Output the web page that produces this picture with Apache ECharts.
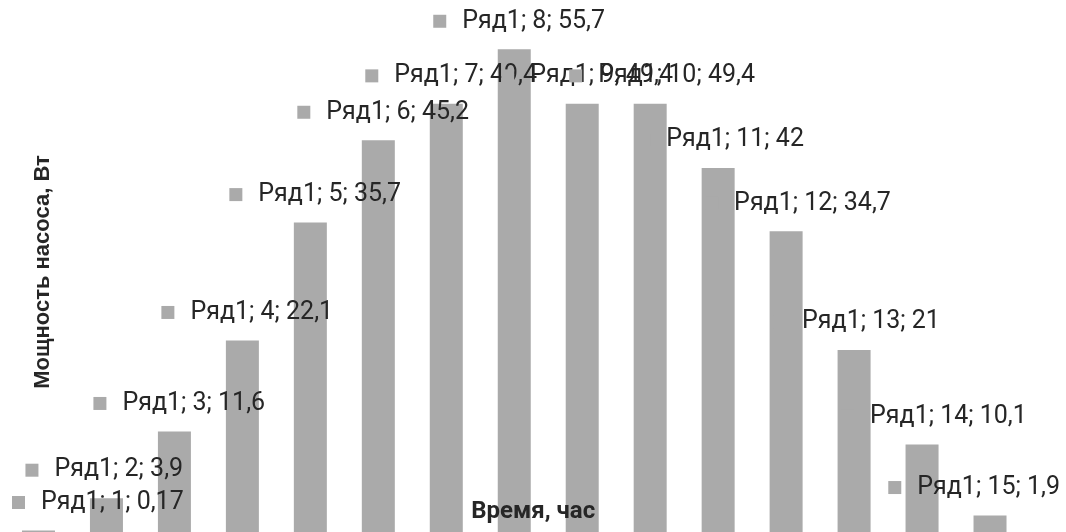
<!DOCTYPE html>
<html>
<head>
<meta charset="utf-8">
<script src="https://cdn.jsdelivr.net/npm/echarts@6/dist/echarts.min.js"></script>
<style>
  html, body { margin: 0; padding: 0; background: #fff; }
  #chart { width: 1066px; height: 532px; }
</style>
</head>
<body>
<div id="chart"></div>
<script>
// часы
const hours = ['1', '2', '3', '4', '5', '6', '7', '8', '9', '10', '11', '12', '13', '14', '15']
// мощность насоса, Вт
const power = [0.17, 3.9, 11.6, 22.1, 35.7, 45.2, 49.4, 55.7, 49.4, 49.4, 42, 34.7, 21, 10.1, 1.9]
const seriesName = 'Ряд1'

const barColor = '#aaaaaa'
const textColor = '#262626'

const chart = echarts.init(document.getElementById('chart'))

const option = {
  animation: false,
  grid: {
    left: 4.5,
    right: 42,
    top: 12,
    bottom: 0
  },
  xAxis: {
    type: 'category',
    data: hours,
    name: 'Время, час',
    nameLocation: 'middle',
    nameGap: -20,
    z: 10,
    nameTextStyle: {
      fontFamily: 'Roboto',
      fontWeight: 'bold',
      fontSize: 24,
      color: textColor,
      verticalAlign: 'middle',
      padding: [0, 0, 0, 38]
    },
    axisLine: { show: false },
    axisTick: { show: false },
    axisLabel: { show: false }
  },
  yAxis: {
    type: 'value',
    min: 0,
    max: 60,
    name: 'Мощность насоса, Вт',
    nameLocation: 'middle',
    nameRotate: 90,
    nameGap: -38,
    z: 10,
    nameTextStyle: {
      fontFamily: 'Liberation Sans',
      fontWeight: 'bold',
      fontSize: 22,
      color: textColor,
      verticalAlign: 'middle'
    },
    axisLine: { show: false },
    axisTick: { show: false },
    axisLabel: { show: false },
    splitLine: { show: false }
  },
  series: [
    {
      name: seriesName,
      type: 'bar',
      data: power,
      barWidth: 33,
      itemStyle: { color: barColor },
      label: {
        show: true,
        align: 'left',
        verticalAlign: 'middle',
        formatter: function (p) {
          const v = String(p.value).replace('.', ',')
          return '{sq|}{t|' + p.seriesName + '; ' + p.name + '; ' + v + '}'
        },
        rich: {
          sq: { width: 13, height: 13, backgroundColor: barColor },
          t: {
            fontFamily: 'Roboto',
            fontSize: 25,
            color: textColor,
            padding: [0, 0, 0, 16]
          }
        }
      }
    }
  ],
  // подписи: слева-сверху от столбца, не выходя за края
  labelLayout: function (params) {
    const r = params.rect
    const top = Math.min(r.y, r.y + r.height)
    const cx = r.x + r.width / 2
    const w = params.labelRect.width
    let x = cx - 81
    x = Math.min(x, chart.getWidth() - w - 6)
    x = Math.max(12, x)
    return {
      x: x,
      y: top - 28,
      align: 'left',
      verticalAlign: 'middle'
    }
  }
}

chart.setOption(option)
</script>
</body>
</html>
